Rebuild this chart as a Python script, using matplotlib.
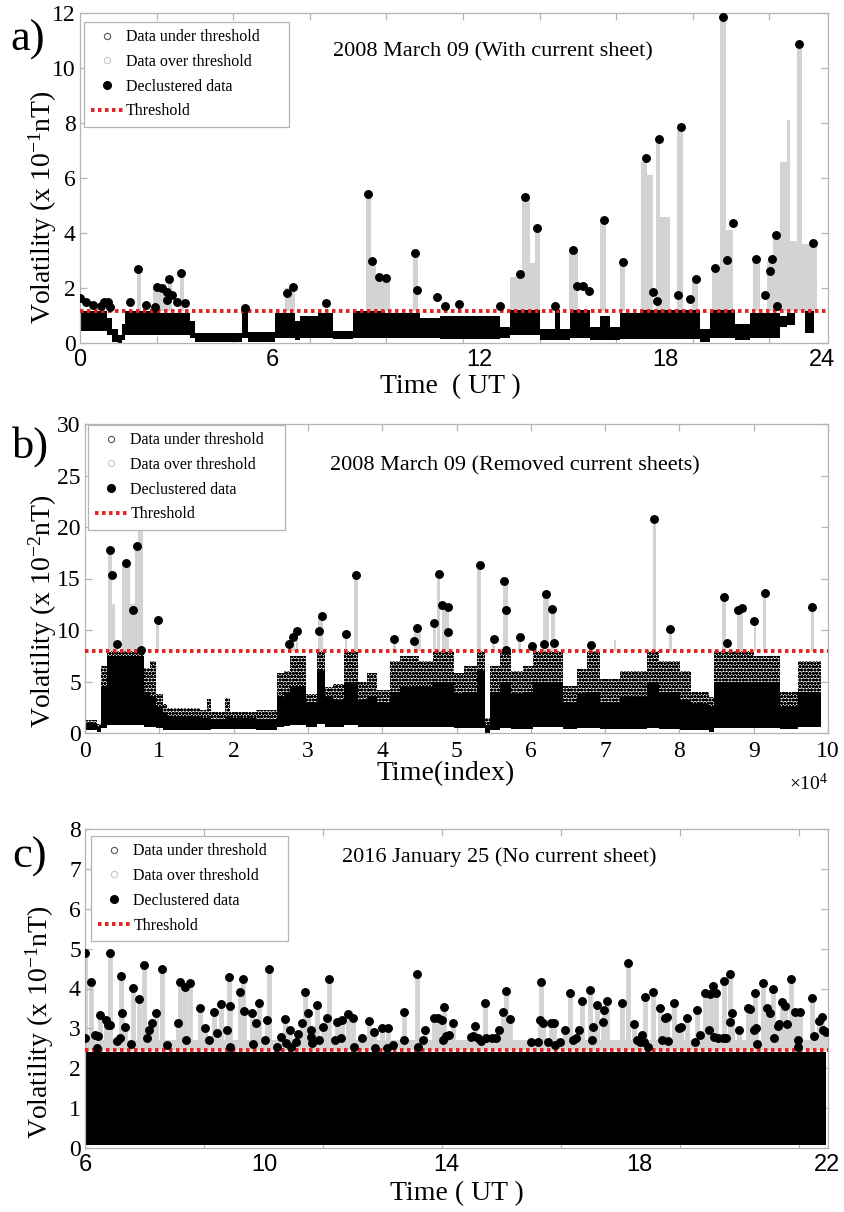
import numpy as np
import matplotlib.pyplot as plt
from matplotlib.lines import Line2D

plt.rcParams['font.family'] = ['Liberation Serif', 'DejaVu Serif']
plt.rcParams['mathtext.fontset'] = 'custom'
plt.rcParams['mathtext.rm'] = 'Liberation Serif'
plt.rcParams['mathtext.default'] = 'regular'
plt.rcParams['hatch.linewidth'] = 1.1

SANS = 'Liberation Sans'
RED = '#e3221f'
FRAME = '#b4b4b4'
OVER = '#d3d3d3'

# ---- a) 2008 March 09, with current sheet (x = sample index / 1e4) ----
a_xmax = 9.765
a_hour_pos = [0.0, 2.51, 5.22, 7.64, 9.69]
a_hour_lab = ['0', '6', '12', '18', '24']
a_threshold = 1.15
a_cloud_edges = [0.00, 0.35, 0.42, 0.50, 0.55, 0.59, 1.04, 1.44, 1.50, 2.11,
                 2.19, 2.55, 2.81, 2.87, 3.11, 3.30, 3.56, 3.98, 4.44, 4.70,
                 5.48, 5.61, 6.01, 6.20, 6.27, 6.40, 6.66, 6.79, 6.92, 7.05,
                 7.31, 8.09, 8.22, 8.55, 8.75, 9.14, 9.23, 9.33, 9.46, 9.58]
a_cloud_low = [0.45, 0.30, 0.05, 0.00, 0.10, 0.30, 0.30, 0.20, 0.05, 0.20,
               0.05, 0.20, 0.10, 0.20, 0.20, 0.15, 0.20, 0.20, 0.20, 0.15,
               0.20, 0.30, 0.10, 0.10, 0.10, 0.20, 0.10, 0.10, 0.10, 0.15,
               0.15, 0.05, 0.20, 0.10, 0.20, 0.60, 0.65, 0.80, 0.35]
a_cloud_high = [1.15, 0.90, 0.50, 0.30, 0.70, 1.15, 1.10, 0.80, 0.35, 1.20,
                0.40, 1.10, 0.80, 1.00, 1.10, 0.45, 1.15, 1.10, 0.90, 1.00,
                0.60, 1.20, 0.50, 1.20, 0.50, 1.20, 0.60, 1.00, 0.60, 1.10,
                1.20, 0.50, 1.20, 0.70, 1.10, 1.00, 1.10, 0.80, 1.15]
a_over_start = [0.74, 0.95, 1.15, 1.31, 2.68, 3.73, 3.80, 3.86, 4.35, 5.61,
                5.77, 5.87, 5.94, 6.38, 6.79, 7.05, 7.32, 7.40, 7.52, 7.57,
                7.79, 7.99, 8.25, 8.36, 8.43, 8.79, 8.97, 9.05, 9.14, 9.23,
                9.27, 9.36, 9.42]
a_over_end = [0.80, 1.15, 1.20, 1.36, 2.81, 3.80, 3.86, 4.05, 4.41, 5.77,
              5.87, 5.94, 6.00, 6.50, 6.87, 7.11, 7.40, 7.48, 7.57, 7.70,
              7.87, 8.07, 8.36, 8.43, 8.52, 8.88, 9.05, 9.14, 9.23, 9.27,
              9.36, 9.42, 9.62]
a_over_top = [2.6, 2.0, 2.3, 2.5, 2.0, 5.3, 2.9, 2.4, 3.2, 2.4,
              5.2, 2.9, 4.1, 3.3, 4.4, 2.9, 6.6, 6.1, 7.3, 4.6,
              7.7, 2.3, 2.7, 11.7, 4.1, 3.0, 3.0, 3.9, 6.6, 8.1,
              3.7, 10.7, 3.6]
a_decl_x = [0.00, 0.08, 0.17, 0.27, 0.31, 0.37, 0.39, 0.65, 0.76, 0.86,
            0.98, 1.00, 1.07, 1.13, 1.14, 1.16, 1.20, 1.26, 1.32, 1.37,
            2.15, 2.70, 2.78, 3.21, 3.76, 3.81, 3.90, 4.00, 4.37, 4.40,
            4.66, 4.77, 4.95, 5.48, 5.74, 5.81, 5.96, 6.20, 6.43, 6.49,
            6.57, 6.64, 6.84, 7.09, 7.39, 7.48, 7.53, 7.56, 7.81, 7.84,
            7.96, 8.04, 8.29, 8.39, 8.44, 8.53, 8.83, 8.94, 9.01, 9.04,
            9.08, 9.10, 9.38, 9.57]
a_decl_y = [1.65, 1.49, 1.38, 1.33, 1.49, 1.49, 1.31, 1.50, 2.68, 1.38,
            1.30, 2.05, 1.99, 1.87, 1.56, 2.34, 1.75, 1.50, 2.56, 1.44,
            1.26, 1.81, 2.05, 1.47, 5.42, 2.98, 2.41, 2.35, 3.26, 1.93,
            1.68, 1.35, 1.42, 1.35, 2.51, 5.30, 4.18, 1.35, 3.38, 2.07,
            2.07, 1.90, 4.47, 2.96, 6.72, 1.87, 1.53, 7.41, 1.76, 7.84,
            1.59, 2.32, 2.74, 11.87, 3.02, 4.37, 3.07, 1.73, 2.63, 3.07,
            3.92, 1.35, 10.86, 3.65]

# ---- b) 2008 March 09, current sheets removed (x = index / 1e4) ----
b_xmax = 10.0
b_threshold = 8.0
b_cloud_edges = [0.00, 0.16, 0.22, 0.29, 0.79, 0.88, 0.96, 1.05, 1.10, 1.30,
                 1.55, 1.64, 1.70, 1.88, 1.95, 2.30, 2.58, 2.68, 2.76, 2.98,
                 3.12, 3.23, 3.34, 3.48, 3.68, 3.80, 3.93, 4.10, 4.24, 4.50,
                 4.69, 4.96, 5.10, 5.27, 5.38, 5.45, 5.58, 5.74, 5.90, 6.03,
                 6.44, 6.62, 6.75, 6.93, 7.20, 7.56, 7.72, 8.01, 8.15, 8.40,
                 8.47, 9.00, 9.35, 9.60, 9.90]
b_cloud_low = [0.3, 0.1, 0.5, 0.8, 0.6, 0.6, 0.5, 0.3, 0.3, 0.3,
               0.3, 0.3, 0.4, 0.4, 0.4, 0.3, 0.6, 0.7, 0.8, 0.6,
               0.9, 0.6, 0.6, 0.8, 0.6, 0.6, 0.6, 0.6, 0.6, 0.6,
               0.6, 0.5, 0.5, 0.5, 0.0, 0.3, 0.5, 0.4, 0.4, 0.6,
               0.4, 0.5, 0.5, 0.4, 0.4, 0.5, 0.4, 0.3, 0.3, 0.1,
               0.5, 0.5, 0.4, 0.6]
b_cloud_high = [1.3, 0.9, 6.5, 8.0, 6.3, 7.0, 3.8, 2.8, 2.4, 2.4,
                2.2, 3.3, 2.0, 3.4, 2.0, 2.2, 5.8, 6.0, 7.5, 3.8,
                8.0, 4.5, 4.8, 8.0, 5.0, 5.8, 4.2, 7.0, 7.5, 7.0,
                8.0, 5.8, 6.5, 8.0, 1.5, 6.5, 8.0, 6.0, 6.5, 8.0,
                4.6, 6.2, 8.0, 5.2, 6.0, 8.0, 7.0, 6.0, 4.0, 3.5,
                8.0, 7.5, 4.0, 7.0]
b_cloud_core = [1.0, 0.6, 4.5, 7.5, 4.0, 3.5, 2.5, 1.8, 1.6, 1.6,
                1.5, 1.6, 1.4, 1.6, 1.5, 1.4, 3.5, 4.0, 4.5, 3.0,
                6.0, 3.5, 3.2, 5.0, 3.2, 3.5, 3.0, 4.0, 4.5, 4.5,
                5.0, 3.8, 4.0, 6.0, 0.8, 4.0, 5.0, 3.8, 4.0, 5.0,
                3.0, 3.8, 4.0, 3.0, 3.5, 5.0, 4.0, 3.2, 2.8, 2.5,
                5.0, 5.0, 2.5, 4.0]
b_over_start = [0.31, 0.36, 0.42, 0.50, 0.60, 0.67, 0.72, 0.96, 2.74, 2.78,
                2.84, 3.14, 3.50, 3.62, 4.15, 4.43, 4.68, 4.74, 4.80, 5.28,
                5.48, 5.62, 5.83, 6.16, 6.27, 6.80, 7.12, 7.64, 7.86, 8.58,
                8.78, 9.00, 9.13, 9.77]
b_over_end = [0.36, 0.40, 0.45, 0.60, 0.67, 0.72, 0.78, 0.99, 2.77, 2.82,
              2.87, 3.20, 3.53, 3.67, 4.18, 4.52, 4.72, 4.78, 4.90, 5.33,
              5.52, 5.69, 5.87, 6.24, 6.32, 6.83, 7.15, 7.68, 7.90, 8.63,
              8.86, 9.03, 9.17, 9.81]
b_over_top = [17.5, 12.5, 8.6, 16.3, 12.5, 18.0, 20.0, 10.5, 8.6, 9.3,
              9.8, 11.3, 9.5, 15.0, 9.0, 10.0, 10.5, 15.0, 12.0, 16.0,
              9.0, 14.5, 9.2, 13.3, 11.8, 8.5, 9.0, 20.5, 10.0, 13.0,
              12.0, 10.8, 13.4, 12.0]
b_decl_x = [0.33, 0.37, 0.43, 0.55, 0.64, 0.70, 0.75, 0.76, 0.98, 2.75,
            2.80, 2.85, 3.15, 3.19, 3.51, 3.65, 4.16, 4.43, 4.47, 4.70,
            4.76, 4.81, 4.88, 4.89, 5.31, 5.50, 5.64, 5.67, 5.67, 5.85,
            6.02, 6.18, 6.21, 6.29, 6.31, 6.81, 7.66, 7.88, 8.60, 8.64,
            8.79, 8.84, 9.01, 9.15, 9.79]
b_decl_y = [17.8, 15.3, 8.6, 16.5, 11.9, 18.2, 20.5, 8.1, 11.0, 8.6,
            9.3, 9.9, 9.9, 11.4, 9.6, 15.3, 9.1, 8.9, 10.2, 10.7,
            15.4, 12.4, 9.8, 12.2, 16.3, 9.1, 14.8, 11.9, 8.1, 9.3,
            8.4, 8.6, 13.5, 12.0, 8.7, 8.5, 20.8, 10.1, 13.2, 8.7,
            11.9, 12.1, 10.9, 13.6, 12.2]

# ---- c) 2016 January 25, no current sheet (x = sample index / 1e4) ----
c_xmax = 6.244
c_hour_pos = [0.0, 1.51, 3.04, 4.66, 6.235]
c_hour_lab = ['6', '10', '14', '18', '22']
c_threshold = 2.45
c_cloud_edges = [0.00, 6.23]
c_cloud_low = [0.08]
c_cloud_high = [2.42]
c_over_band_top = 2.72
c_decl_x = [0.00, 0.00, 0.05, 0.08, 0.11, 0.10, 0.13, 0.18, 0.19, 0.21,
            0.21, 0.27, 0.29, 0.30, 0.31, 0.34, 0.39, 0.40, 0.45, 0.50,
            0.52, 0.54, 0.56, 0.60, 0.65, 0.69, 0.78, 0.80, 0.84, 0.88,
            0.85, 0.97, 1.01, 1.04, 1.08, 1.11, 1.14, 1.19, 1.22, 1.21,
            1.22, 1.30, 1.33, 1.34, 1.40, 1.41, 1.44, 1.46, 1.51, 1.53,
            1.55, 1.61, 1.65, 1.68, 1.69, 1.72, 1.73, 1.77, 1.79, 1.82,
            1.85, 1.87, 1.90, 1.90, 1.91, 1.95, 1.97, 2.00, 2.03, 2.05,
            2.10, 2.12, 2.15, 2.16, 2.21, 2.25, 2.26, 2.33, 2.39, 2.43,
            2.44, 2.50, 2.55, 2.54, 2.59, 2.68, 2.68, 2.79, 2.80,
            2.84, 2.86, 2.93, 2.97, 3.00, 3.02, 3.03, 3.01, 3.06, 3.09,
            3.24, 3.26, 3.28, 3.30, 3.33, 3.36, 3.37, 3.42, 3.45, 3.48,
            3.51, 3.54, 3.57, 3.75, 3.81, 3.82, 3.83, 3.85, 3.89, 3.92,
            3.94, 3.95, 3.99, 4.03, 4.08, 4.10, 4.13, 4.15, 4.18, 4.24,
            4.26, 4.27, 4.30, 4.35, 4.36, 4.39, 4.51, 4.56, 4.61, 4.64,
            4.66, 4.68, 4.70, 4.71, 4.73, 4.77, 4.83, 4.85, 4.87, 4.89,
            4.90, 4.95, 4.99, 5.01, 5.06, 5.13, 5.14, 5.17, 5.21, 5.24,
            5.25, 5.28, 5.30, 5.29, 5.32, 5.36, 5.37, 5.39, 5.42, 5.44,
            5.42, 5.50, 5.57, 5.59, 5.62, 5.63, 5.64, 5.65, 5.70, 5.73,
            5.76, 5.78, 5.79, 5.82, 5.83, 5.86, 5.88, 5.90, 5.93, 5.97,
            5.99, 6.01, 5.99, 6.11, 6.13, 6.17, 6.19, 6.20, 6.23]
c_decl_y = [4.90, 2.77, 4.17, 2.83, 2.81, 2.52, 3.33, 3.21, 3.08, 4.90,
            3.08, 2.69, 2.75, 4.31, 3.38, 3.04, 2.62, 4.02, 3.73, 4.59,
            2.75, 2.97, 3.14, 3.39, 4.48, 2.58, 3.14, 4.17, 4.03, 4.14,
            2.71, 3.52, 3.02, 2.71, 3.40, 2.89, 3.61, 2.97, 3.56, 4.28,
            2.54, 3.92, 4.23, 3.43, 3.38, 2.62, 3.14, 3.63, 2.72, 3.21,
            4.50, 2.54, 2.79, 3.23, 2.64, 2.97, 2.54, 2.66, 2.87, 3.13,
            3.90, 3.38, 2.97, 2.79, 2.64, 3.58, 2.72, 3.04, 3.25, 4.25,
            2.72, 3.17, 2.77, 3.21, 3.35, 3.25, 2.54, 2.75, 3.19, 2.91,
            2.52, 3.00, 3.00, 2.50, 2.58, 3.42, 2.72, 4.36, 2.54,
            2.71, 2.96, 3.25, 3.25, 3.21, 3.54, 2.81, 2.72, 2.83, 3.14,
            2.79, 2.81, 3.06, 2.75, 2.69, 3.63, 2.77, 2.77, 2.77, 2.96,
            3.42, 3.94, 3.23, 2.66, 2.66, 3.21, 4.17, 3.14, 2.66, 3.14,
            3.13, 2.58, 2.66, 2.96, 3.88, 2.71, 2.77, 2.96, 3.68, 3.96,
            2.71, 3.04, 3.58, 3.17, 3.46, 3.68, 3.63, 4.65, 3.11, 2.71,
            2.66, 2.83, 2.66, 3.79, 2.54, 3.90, 3.50, 2.71, 3.25, 3.29,
            2.69, 3.63, 3.02, 3.04, 3.25, 2.66, 3.46, 2.83, 3.89, 2.96,
            3.85, 4.06, 3.89, 2.79, 2.77, 2.77, 4.19, 2.77, 4.36, 3.38,
            3.17, 2.97, 3.50, 3.48, 2.97, 3.89, 3.00, 2.62, 4.15, 3.50,
            3.39, 4.00, 2.75, 3.07, 3.11, 3.67, 3.56, 3.11, 4.25, 3.40,
            2.71, 3.42, 2.54, 3.77, 2.81, 3.18, 3.29, 2.96, 2.91]

FIG_W, FIG_H = 845, 1212


def px_rect(left, top, right, bottom):
    """Axes rectangle in figure fractions from pixel edges."""
    return [left / FIG_W, 1 - bottom / FIG_H, (right - left) / FIG_W, (bottom - top) / FIG_H]


def setup_axes(fig, rect, xmax, ymax, ystep):
    ax = fig.add_axes(rect)
    ax.set_xlim(0, xmax)
    ax.set_ylim(0, ymax)
    ax.set_yticks(np.arange(0, ymax + ystep / 2, ystep))
    for sp in ax.spines.values():
        sp.set_color(FRAME)
        sp.set_linewidth(0.9)
    ax.tick_params(which='both', direction='in', color=FRAME, top=True, right=True,
                   length=5, width=0.9, labelsize=17, pad=3)
    return ax


def hour_axis(ax, pos, labels, minor):
    """Sample-index axis labelled with UT hours."""
    ax.set_xticks(pos, labels, fontfamily=SANS, fontsize=17)
    ax.set_xticks(minor, minor=True)
    ax.tick_params(axis='x', which='major', length=0, pad=4)


def draw_cloud(ax, edges, low, high, z=2, **style):
    ax.fill_between(edges, np.append(low, low[-1]), np.append(high, high[-1]),
                    step='post', linewidth=0, zorder=z, **style)


def draw_over(ax, start, end, top, threshold):
    ax.bar(start, np.subtract(top, threshold), width=np.subtract(end, start),
           bottom=threshold, align='edge', color=OVER, linewidth=0, zorder=1)


def draw_marks(ax, x, y, threshold):
    ax.axhline(threshold, color=RED, lw=2.8, ls=(0, (0.9, 0.9)), zorder=3)
    ax.plot(x, y, 'o', ls='none', color='black', ms=5.4, zorder=4)


def add_legend(ax, left, top, width):
    handles = [
        Line2D([], [], ls='none', marker='o', ms=4.5, mfc='none', mec='#555555', mew=0.8,
               label='Data under threshold'),
        Line2D([], [], ls='none', marker='o', ms=4.5, mfc='none', mec='#c8c8c8', mew=0.8,
               label='Data over threshold'),
        Line2D([], [], ls='none', marker='o', ms=5.5, color='black', label='Declustered data'),
        Line2D([], [], color=RED, lw=2.8, ls=(0, (0.9, 0.9)), label='Threshold'),
    ]
    leg = ax.legend(handles=handles, loc='upper left', bbox_to_anchor=(left, top, width, 0),
                    mode='expand', fontsize=11.5, frameon=True, fancybox=False,
                    edgecolor=FRAME, framealpha=1, borderpad=0.45, labelspacing=0.55,
                    handlelength=2.0, handletextpad=0.2, borderaxespad=0)
    leg.get_frame().set_linewidth(0.9)
    leg.set_zorder(10)


def main():
    fig = plt.figure(figsize=(FIG_W / 100, FIG_H / 100), dpi=100)

    # a) with current sheet
    ax = setup_axes(fig, px_rect(80, 13, 828, 343), a_xmax, 12, 2)
    hour_axis(ax, a_hour_pos, a_hour_lab, np.arange(1, 10))
    draw_over(ax, a_over_start, a_over_end, a_over_top, a_threshold)
    draw_cloud(ax, a_cloud_edges, a_cloud_low, a_cloud_high, color='black')
    draw_marks(ax, a_decl_x, a_decl_y, a_threshold)
    add_legend(ax, 0.005, 0.973, 0.274)
    ax.text(0.552, 0.882, '2008 March 09 (With current sheet)', transform=ax.transAxes,
            ha='center', va='center', fontsize=16)
    ax.set_ylabel('Volatility (x 10$^{-1}$nT)', fontsize=20)
    ax.yaxis.set_label_coords(-0.05, 0.41)
    ax.yaxis.label.set_va('center')
    ax.set_xlabel('Time  ( UT )', fontsize=20)
    ax.xaxis.set_label_coords(0.495, -0.093)

    # b) current sheets removed
    ax = setup_axes(fig, px_rect(85, 424, 828, 733), b_xmax, 30, 5)
    ax.set_xticks(np.arange(0, 11))
    ax.tick_params(axis='x', pad=6)
    draw_over(ax, b_over_start, b_over_end, b_over_top, b_threshold)
    draw_cloud(ax, b_cloud_edges, b_cloud_low, b_cloud_high, facecolor='white',
               edgecolor='black', hatch='ooooo')
    draw_cloud(ax, b_cloud_edges, b_cloud_low, b_cloud_core, z=2.1, color='black')
    draw_marks(ax, b_decl_x, b_decl_y, b_threshold)
    add_legend(ax, 0.004, 0.997, 0.265)
    ax.text(0.579, 0.864, '2008 March 09 (Removed current sheets)', transform=ax.transAxes,
            ha='center', va='center', fontsize=16)
    ax.text(1.0, -0.162, '×10$^{4}$', transform=ax.transAxes, ha='right', va='center',
            fontsize=14)
    ax.set_ylabel('Volatility (x 10$^{-2}$nT)', fontsize=20)
    ax.yaxis.set_label_coords(-0.057, 0.395)
    ax.yaxis.label.set_va('center')
    ax.set_xlabel('Time(index)', fontsize=20)
    ax.xaxis.set_label_coords(0.486, -0.09)

    # c) no current sheet
    ax = setup_axes(fig, px_rect(85, 829, 828, 1148), c_xmax, 8, 1)
    hour_axis(ax, c_hour_pos, c_hour_lab, np.arange(1, 7))
    ax.fill_between([0, c_cloud_edges[-1]], c_threshold, c_over_band_top, color=OVER,
                    linewidth=0, zorder=1)
    ax.vlines(c_decl_x, c_threshold, c_decl_y, colors=OVER, linewidth=3.5, zorder=1)
    draw_cloud(ax, c_cloud_edges, c_cloud_low, c_cloud_high, color='black')
    draw_marks(ax, c_decl_x, c_decl_y, c_threshold)
    add_legend(ax, 0.008, 0.978, 0.265)
    ax.text(0.558, 0.912, '2016 January 25 (No current sheet)', transform=ax.transAxes,
            ha='center', va='center', fontsize=16)
    ax.set_ylabel('Volatility (x 10$^{-1}$nT)', fontsize=20)
    ax.yaxis.set_label_coords(-0.061, 0.395)
    ax.yaxis.label.set_va('center')
    ax.set_xlabel('Time ( UT )', fontsize=20)
    ax.xaxis.set_label_coords(0.50, -0.105)

    # panel letters
    fig.text(10 / FIG_W, 1 - 40 / FIG_H, 'a)', fontsize=32, va='center')
    fig.text(12 / FIG_W, 1 - 447 / FIG_H, 'b)', fontsize=32, va='center')
    fig.text(12 / FIG_W, 1 - 857 / FIG_H, 'c)', fontsize=32, va='center')

    fig.savefig('out.png', dpi=100)


if __name__ == '__main__':
    main()
